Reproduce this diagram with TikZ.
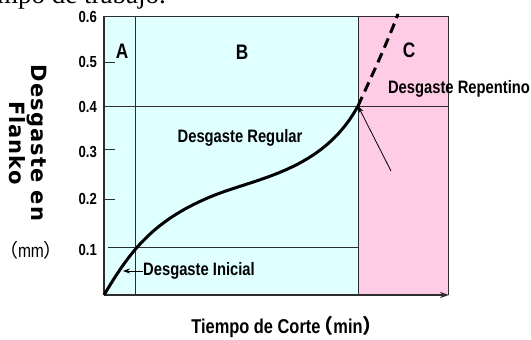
\documentclass[tikz,border=0pt]{standalone}
\usepackage{fontspec}
\setmainfont{Liberation Serif}
\newfontfamily\narrowsf[FakeStretch=0.82]{Liberation Sans}
\newfontfamily\widesf[LetterSpace=5]{DejaVu Sans}
\newfontfamily\cjkfont{Noto Sans CJK JP}
\usetikzlibrary{arrows.meta, positioning}
\definecolor{cyanbg}{RGB}{224,255,255}
\definecolor{pinkbg}{RGB}{255,204,230}
\definecolor{framegray}{RGB}{45,45,45}
\tikzset{>={Stealth[length=7pt,width=5pt]}}

\begin{document}
\begin{tikzpicture}[x=1pt, y=-1pt,
    lab/.style={font=\narrowsf\bfseries\fontsize{18}{20}\selectfont, inner sep=0pt},
    ticklab/.style={font=\narrowsf\bfseries\fontsize{16}{18}\selectfont, inner sep=0pt, anchor=east},
    zone/.style={font=\narrowsf\bfseries\fontsize{21}{22}\selectfont, inner sep=0pt},
    frameline/.style={draw=framegray, line width=1pt}]
		\useasboundingbox (0,0) rectangle (531,340);
		% background bands
		\fill[cyanbg] (104,16) rectangle (358,295);
		\fill[pinkbg] (358,16) rectangle (448,295);
		
		\node [anchor=base west, inner sep=0pt, font=\fontsize{27}{30}\selectfont] (cut) at (-3,4) {mpo de trabajo.};
		
		\coordinate (o) at (104,295);
		\coordinate (knee) at (358,106);
		\coordinate (reptail) at (391,171);
		\coordinate (initip) at (123,271);
		
		\draw[frameline] (104,16) -- (448,16) -- (448,295);
		\draw[frameline] (135,16) -- (135,295);
		\draw[frameline] (358,16) -- (358,295);
		\draw[frameline] (104,106) -- (448,106);
		\draw[frameline] (108,247) -- (358,247);
		\foreach \y in {62,149,199}
			\draw[frameline] (104,\y) -- (115,\y);
		\draw[frameline, line width=1.5pt] (104,16) -- (o);
		\draw[frameline, line width=1.5pt, -{Stealth[length=9pt,width=6pt]}] (o) -- (449,295);
		
		\foreach \v/\y in {0.6/17, 0.5/62, 0.4/107, 0.3/152, 0.2/199, 0.1/250}
			\node [ticklab] at (97,\y) {\v};
		
		% wear curve
		\draw[line width=3pt] (o) .. controls (128,255) and (150,222) .. (210,197)
			.. controls (255,178) and (322,172) .. (knee);
		\draw[line width=3pt, dash pattern=on 10pt off 6pt] (knee) .. controls (368,84) and (386,46) .. (398,14);
		
		\node [zone] (A) at (122,51) {A};
		\node [zone] (B) at (242,52) {B};
		\node [zone] (C) at (409,50) {C};
		
		\node [lab] (reg) at (240,138) {Desgaste Regular};
		\node [lab] (rep) at (459,89) {Desgaste Repentino};
		\node [lab, anchor=west] (ini) at (143,271) {Desgaste Inicial};
		\draw[->, line width=0.8pt] (reptail) -- (knee);
		\draw[->, line width=0.8pt] (ini.west) -- (initip);
		
		\node [rotate=-90, align=center, inner sep=0pt, font=\widesf\bfseries\fontsize{21}{17}\selectfont] (ytitle) at (28,143) {Desgaste en\\Flanko};
		\node [font=\narrowsf\fontsize{19}{20}\selectfont, inner sep=0pt] (unit) at (31,250) {{\cjkfont （}mm{\cjkfont ）}};
		\node [lab, font=\narrowsf\bfseries\fontsize{20}{22}\selectfont] (xtitle) at (287,327) {Tiempo de Corte\kern-7pt{\cjkfont （}min{\cjkfont ）}};
\end{tikzpicture}
\end{document}
